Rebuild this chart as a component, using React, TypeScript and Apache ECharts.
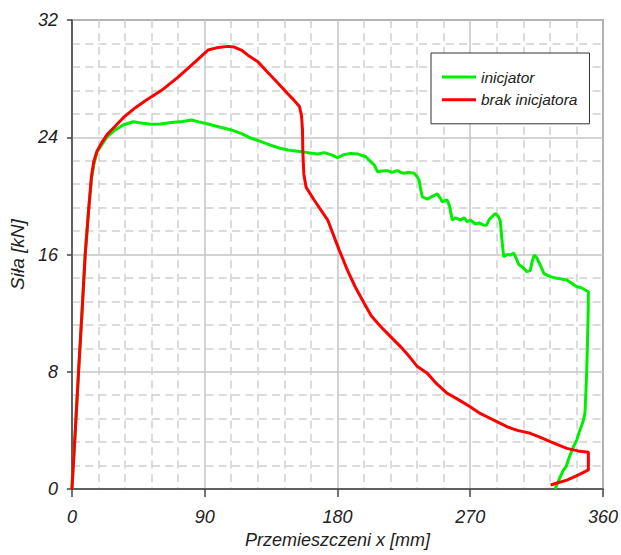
import React, { useEffect, useRef } from "react";
import * as echarts from "echarts";

// Data
const greenX = [0, 2.3, 4.5, 6.8, 9, 11.3, 13.3, 15, 17, 20.3, 24, 29.3, 35, 41.7, 48, 54, 60, 67.5, 75, 81, 86, 92.3, 100, 108.1, 115, 121.6, 128.3, 135, 141, 146.4, 153.1, 160, 166.6, 171.1, 176, 180.1, 184, 189.1, 194, 199.2, 202.6, 205, 207.1, 210, 213.9, 217, 220.6, 223, 225.1, 228, 231.9, 234, 235.3, 236.5, 237.5, 240.9, 244, 247.7, 250, 251, 254.4, 256, 257.8, 260, 263.4, 266, 267.9, 270.2, 273.5, 276, 279.1, 281, 283, 287, 289, 290.4, 291.5, 292.7, 295, 297.2, 299.5, 301.7, 303, 305.1, 308.4, 310.7, 312.2, 313.5, 315, 317.4, 320, 324.2, 328.7, 335.5, 340, 342.2, 345, 350.1, 350, 349.5, 349, 348.5, 347.8, 346.5, 344, 342.2, 340, 336.5, 335, 333.2, 330, 327.6];
const greenY = [0, 4, 8, 12, 16, 19, 21.2, 22.2, 23.0, 23.5, 24.05, 24.5, 24.85, 25.06, 24.95, 24.88, 24.9, 25.0, 25.08, 25.18, 25.05, 24.9, 24.7, 24.5, 24.25, 23.93, 23.7, 23.45, 23.25, 23.13, 23.05, 22.95, 22.86, 22.95, 22.8, 22.6, 22.8, 22.9, 22.85, 22.67, 22.33, 22.1, 21.65, 21.7, 21.72, 21.6, 21.72, 21.6, 21.54, 21.6, 21.54, 21.3, 21.08, 20.4, 19.94, 19.77, 19.95, 20.13, 19.8, 19.6, 19.72, 19.3, 18.35, 18.5, 18.35, 18.5, 18.24, 18.35, 18.08, 18.15, 18.01, 18.0, 18.4, 18.8, 18.6, 18.3, 17.0, 15.85, 16.0, 15.97, 16.1, 15.62, 15.3, 15.17, 14.83, 14.9, 15.6, 15.97, 15.8, 15.3, 14.7, 14.49, 14.38, 14.26, 13.95, 13.8, 13.75, 13.46, 12.2, 10, 8.12, 6.8, 5.17, 4.6, 3.9, 3.34, 2.89, 2.0, 1.52, 1.3, 0.6, 0];

const redX = [0, 2.3, 4.5, 6.8, 9, 11.3, 13.2, 14.8, 17, 20.3, 24, 29.3, 35, 42.8, 50, 60.8, 72, 82, 92.3, 98, 105.8, 110, 114.8, 119.3, 126.1, 132, 139.6, 146, 150.8, 154.2, 155.6, 156.3, 156.5, 157.2, 158.7, 164.3, 173.4, 181.2, 186.9, 192, 198.1, 203, 209.4, 216, 222.9, 229, 234.2, 240.9, 247, 254.4, 262, 270.2, 276, 281.4, 288, 294.9, 302, 310.7, 318, 324.2, 330, 335.5, 343, 350.1, 350.1, 347.8, 342, 335.5, 324.5];
const redY = [0, 4, 8, 12, 16, 19, 21.3, 22.35, 23.05, 23.65, 24.2, 24.75, 25.35, 26.0, 26.5, 27.2, 28.1, 29.0, 29.95, 30.1, 30.2, 30.15, 29.95, 29.6, 29.15, 28.5, 27.7, 27.0, 26.5, 26.1, 25.5, 24.5, 23.1, 21.5, 20.6, 19.7, 18.35, 16.3, 14.9, 13.8, 12.67, 11.8, 11.07, 10.4, 9.7, 9.0, 8.35, 7.9, 7.2, 6.53, 6.1, 5.6, 5.2, 4.93, 4.6, 4.25, 4.0, 3.8, 3.5, 3.23, 3.0, 2.77, 2.6, 2.5, 1.3, 1.18, 0.9, 0.61, 0.27];

const seriesNames = ["inicjator", "brak inicjatora"];
const seriesColors = ["#00ee00", "#ff0000"];
const xAxisName = "Przemieszczeni x [mm]";
const yAxisName = "Siła [kN]";

const FONT = '"Liberation Sans", Arial, sans-serif';

function zip(xs: number[], ys: number[]) {
  return xs.map((x, i) => [x, ys[i]]);
}

export default function App() {
  const ref = useRef<HTMLDivElement>(null);
  useEffect(() => {
    if (!ref.current) return;
    const chart = echarts.init(ref.current, undefined, { renderer: "svg" });
    const labelStyle = { fontSize: 18, fontStyle: "italic" as const, color: "#222", fontFamily: FONT };
    const minor = { show: true, lineStyle: { color: "#cfcfcf", width: 1.5, type: [8, 5.35] as any } };
    const major = { show: true, lineStyle: { color: "#c4c4c4", width: 1.5 } };
    chart.setOption({
      animation: false,
      backgroundColor: "#fff",
      grid: { left: 70, right: 18, top: 20, bottom: 66, show: true, borderColor: "#555", borderWidth: 1.5, backgroundColor: "#fff" },
      legend: {
        orient: "vertical",
        left: 431,
        top: 53,
        padding: [16, 12, 16, 11],
        icon: "rect",
        itemWidth: 34,
        itemHeight: 3,
        itemGap: 6.8,
        backgroundColor: "#fff",
        borderColor: "#333",
        borderWidth: 1,
        textStyle: { fontSize: 15.5, fontStyle: "italic", color: "#222", fontFamily: FONT },
        data: seriesNames,
      },
      xAxis: {
        type: "value",
        min: 0,
        max: 360,
        interval: 90,
        name: xAxisName,
        nameLocation: "middle",
        nameGap: 41,
        nameTextStyle: { fontSize: 18, fontStyle: "italic", color: "#222", fontFamily: FONT },
        axisLine: { show: true, onZero: false, lineStyle: { color: "#444", width: 1.5 } },
        axisTick: { show: true, length: 8, lineStyle: { color: "#444", width: 1.5 } },
        axisLabel: { ...labelStyle, margin: 19 },
        splitLine: major,
        minorTick: { show: false, splitNumber: 5 },
        minorSplitLine: minor,
      },
      yAxis: {
        type: "value",
        min: 0,
        max: 32,
        interval: 8,
        name: yAxisName,
        nameLocation: "middle",
        nameGap: 39,
        nameTextStyle: { fontSize: 19, fontStyle: "italic", color: "#222", fontFamily: FONT },
        axisLine: { show: true, onZero: false, lineStyle: { color: "#444", width: 1.5 } },
        axisTick: { show: true, length: 5, lineStyle: { color: "#444", width: 1.5 } },
        axisLabel: { ...labelStyle, margin: 14 },
        splitLine: major,
        minorTick: { show: false, splitNumber: 5 },
        minorSplitLine: minor,
      },
      series: [
        {
          name: seriesNames[0],
          type: "line",
          symbol: "none",
          showSymbol: false,
          data: zip(greenX, greenY),
          lineStyle: { color: seriesColors[0], width: 3 },
          itemStyle: { color: seriesColors[0] },
          z: 3,
        },
        {
          name: seriesNames[1],
          type: "line",
          symbol: "none",
          showSymbol: false,
          data: zip(redX, redY),
          lineStyle: { color: seriesColors[1], width: 3 },
          itemStyle: { color: seriesColors[1] },
          z: 4,
        },
      ],
    });
    return () => chart.dispose();
  }, []);
  return <div ref={ref} style={{ position: "fixed", left: 0, top: 0, width: 621, height: 555 }} />;
}
